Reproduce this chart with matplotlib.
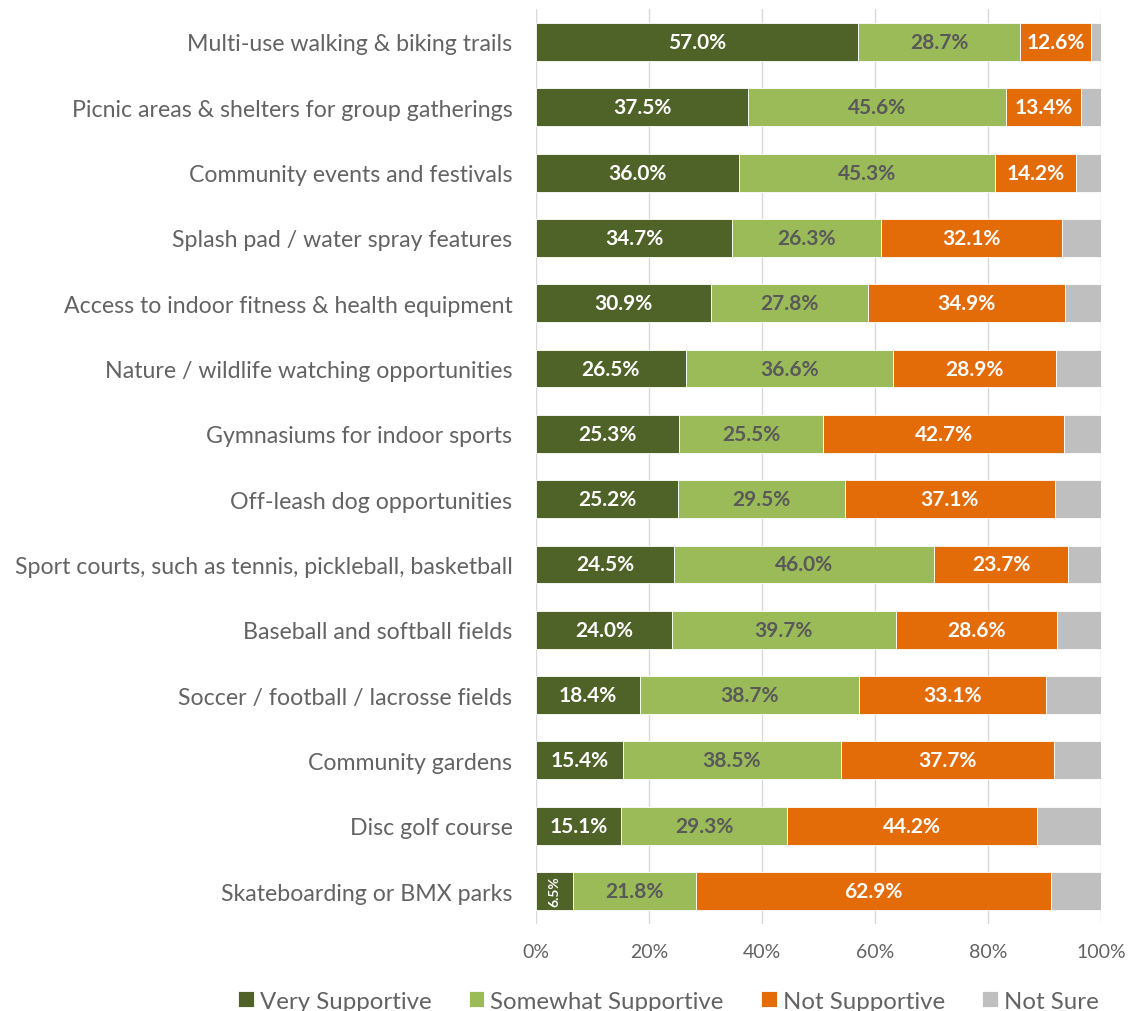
import matplotlib.pyplot as plt
import numpy as np
from matplotlib.ticker import FuncFormatter

plt.rcParams['font.family'] = ['Lato', 'DejaVu Sans']

categories = [
    'Multi-use walking & biking trails',
    'Picnic areas & shelters for group gatherings',
    'Community events and festivals',
    'Splash pad / water spray features',
    'Access to indoor fitness & health equipment',
    'Nature / wildlife watching opportunities',
    'Gymnasiums for indoor sports',
    'Off-leash dog opportunities',
    'Sport courts, such as tennis, pickleball, basketball',
    'Baseball and softball fields',
    'Soccer / football / lacrosse fields',
    'Community gardens',
    'Disc golf course',
    'Skateboarding or BMX parks',
]
very = [57.0, 37.5, 36.0, 34.7, 30.9, 26.5, 25.3, 25.2, 24.5, 24.0, 18.4, 15.4, 15.1, 6.5]
somewhat = [28.7, 45.6, 45.3, 26.3, 27.8, 36.6, 25.5, 29.5, 46.0, 39.7, 38.7, 38.5, 29.3, 21.8]
not_supp = [12.6, 13.4, 14.2, 32.1, 34.9, 28.9, 42.7, 37.1, 23.7, 28.6, 33.1, 37.7, 44.2, 62.9]
not_sure = [100 - a - b - c for a, b, c in zip(very, somewhat, not_supp)]

series = [
    ('Very Supportive', very, '#4F6228', 'white'),
    ('Somewhat Supportive', somewhat, '#9BBB59', '#595959'),
    ('Not Supportive', not_supp, '#E36C09', 'white'),
    ('Not Sure', not_sure, '#BFBFBF', None),
]

fig = plt.figure(figsize=(11.29, 10.12), dpi=100)
ax = fig.add_axes([0.4748, 0.0863, 0.5004, 0.9035])

y = np.arange(len(categories))
left = np.zeros(len(categories))
for name, vals, color, tcolor in series:
    vals = np.array(vals)
    ax.barh(y, vals, left=left, height=0.58, color=color, edgecolor='white',
            linewidth=0.6, label=name, zorder=3)
    if tcolor is not None:
        for yi, l, v in zip(y, left, vals):
            if v < 10:
                # narrow segment: turn the label sideways
                ax.text(l + v / 2, yi, f'{v:.1f}%', ha='center', va='center',
                        color=tcolor, fontsize=10, fontweight='bold', rotation=90, zorder=4)
            else:
                ax.text(l + v / 2, yi, f'{v:.1f}%', ha='center', va='center',
                        color=tcolor, fontsize=15, fontweight='bold', zorder=4)
    left += vals

ax.set_xlim(0, 100)
ax.set_ylim(len(categories) - 0.5, -0.5)
ax.set_yticks(y)
ax.set_yticklabels(categories, fontsize=16.7, color='#636363')
ax.set_xticks(np.arange(0, 101, 20))
ax.xaxis.set_major_formatter(FuncFormatter(lambda v, p: f'{v:.0f}%'))
ax.tick_params(axis='x', labelsize=14, labelcolor='#636363', length=0, pad=14)
ax.tick_params(axis='y', length=0, pad=17)
ax.grid(axis='x', color='#D9D9D9', linewidth=1, zorder=0)
for s in ax.spines.values():
    s.set_visible(False)

fig.legend(loc='lower center', bbox_to_anchor=(0.592, -0.022), ncol=4, frameon=False,
           fontsize=17.3, labelcolor='#636363', handlelength=0.65, handleheight=0.65,
           handletextpad=0.25, columnspacing=1.55)

fig.savefig('out.png', dpi=100)
